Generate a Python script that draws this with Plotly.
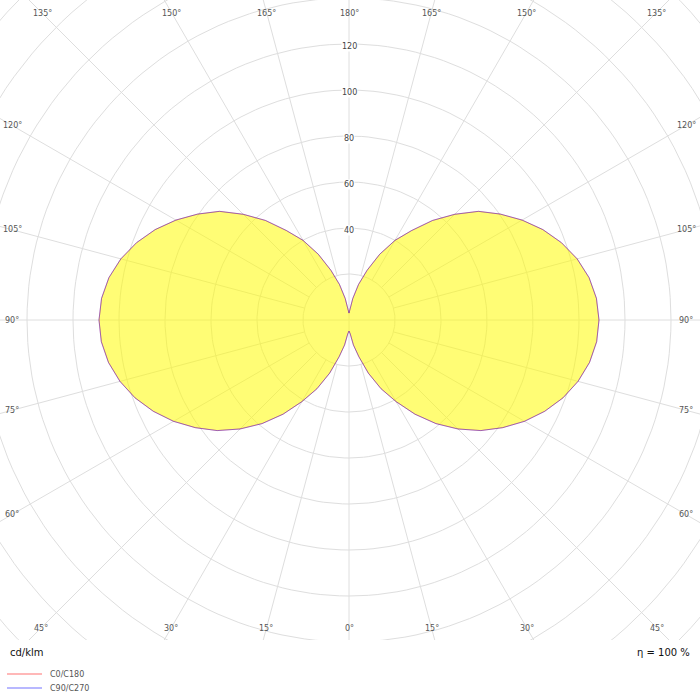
import math
import plotly.graph_objects as go

# ---- data ----
gamma_deg = list(range(0, 181, 5))
i_c0_c180 = [4.8, 6.0, 11.0, 16.5, 24.6, 33.0, 41.0, 50.0, 58.8, 67.0, 74.8, 81.6,
             88.1, 93.9, 99.0, 103.1, 106.2, 108.1, 108.7, 108.0, 106.0, 102.7,
             98.3, 93.0, 86.9, 80.3, 73.5, 65.0, 56.5, 47.5, 40.0, 31.5, 23.0,
             16.0, 9.5, 4.5, 3.0]
i_c90_c270 = list(i_c0_c180)
radial_ticks = [40, 60, 80, 100, 120]
grid_radii = [20, 40, 60, 80, 100, 120, 140, 160, 180, 200]
angle_ticks = list(range(0, 181, 15))
unit_label = "cd/klm"
eta_label = "η = 100 %"
series_names = ["C0/C180", "C90/C270"]
series_legend_colors = ["#ffb8b8", "#b8b8ff"]

# ---- layout constants ----
PX = 2.3  # pixels per cd/klm
W, H, H_PLOT = 700, 700, 640
CX, CY = 349, 320
FONT = "DejaVu Sans"
GRID = "#dedede"


def polar_xy(g, r):
    a = math.radians(g)
    return r * math.sin(a), -r * math.cos(a)


fig = go.Figure()

# grid circles
for rr in grid_radii:
    xs, ys = [], []
    for k in range(0, 361, 2):
        x, y = polar_xy(k, rr)
        xs.append(x); ys.append(y)
    fig.add_trace(go.Scatter(x=xs, y=ys, mode="lines", line=dict(color=GRID, width=1),
                             hoverinfo="skip", showlegend=False))
# rays
for k in range(0, 360, 15):
    r0 = 0 if k % 90 == 0 else 20
    x0, y0 = polar_xy(k, r0)
    x1, y1 = polar_xy(k, 260)
    fig.add_trace(go.Scatter(x=[x0, x1], y=[y0, y1], mode="lines", line=dict(color=GRID, width=1),
                             hoverinfo="skip", showlegend=False))


def closed_curve(vals):
    xs, ys = [], []
    for g, v in zip(gamma_deg, vals):
        x, y = polar_xy(g, v)
        xs.append(x); ys.append(y)
    for g, v in zip(reversed(gamma_deg), reversed(vals)):
        x, y = polar_xy(g, v)
        xs.append(-x); ys.append(y)
    return xs, ys

# fill
fx, fy = closed_curve(i_c0_c180)
fig.add_trace(go.Scatter(x=fx, y=fy, mode="lines", fill="toself",
                         fillcolor="rgba(255,252,0,0.54)", line=dict(width=0),
                         hoverinfo="skip", showlegend=False))
# outlines
ax_, ay_ = closed_curve(i_c0_c180)
fig.add_trace(go.Scatter(x=ax_, y=ay_, mode="lines", line=dict(color="rgba(255,0,0,0.38)", width=1),
                         showlegend=False, name=series_names[0]))
bx_, by_ = closed_curve(i_c90_c270)
fig.add_trace(go.Scatter(x=bx_, y=by_, mode="lines", line=dict(color="rgba(0,0,255,0.38)", width=1),
                         showlegend=False, name=series_names[1]))

ann = []
shapes = []
# radial tick labels
for v in radial_ticks:
    ann.append(dict(x=0, y=v, xref="x", yref="y", text=str(v), showarrow=False,
                    font=dict(family=FONT, size=8, color="#444"), bgcolor="white",
                    borderpad=0, xanchor="center", yanchor="middle", yshift=-2))
# angle labels at the frame edge
XL, YT, YB = 337.0, 307.0, 308.0
for g in angle_ticks:
    sides = [1] if g in (0, 180) else [1, -1]
    for s in sides:
        a = math.radians(g)
        dx, dy = math.sin(a), -math.cos(a)
        ts = []
        if abs(dx) > 1e-9:
            ts.append(XL / abs(dx))
        if dy > 1e-9:
            ts.append(YT / dy)
        if dy < -1e-9:
            ts.append(YB / -dy)
        t = min(ts)
        px, py = s * dx * t, dy * t
        ann.append(dict(x=px / PX, y=py / PX, xref="x", yref="y", text=f"{g}°", showarrow=False,
                        font=dict(family=FONT, size=8, color="#555"),
                        xanchor="center", yanchor="middle"))


def pyfrac(ypix):
    return (H_PLOT - ypix) / H_PLOT


ann.append(dict(x=8 / W, y=pyfrac(652), xref="paper", yref="paper", text=unit_label,
                showarrow=False, xanchor="left", yanchor="middle",
                font=dict(family=FONT, size=10, color="#111")))
ann.append(dict(x=692 / W, y=pyfrac(652), xref="paper", yref="paper", text=eta_label,
                showarrow=False, xanchor="right", yanchor="middle",
                font=dict(family=FONT, size=10, color="#111")))
# legend (manual)
for i, (nm, col) in enumerate(zip(series_names, series_legend_colors)):
    yy = 674 + 14 * i
    shapes.append(dict(type="line", xref="paper", yref="paper", x0=7 / W, x1=42 / W,
                       y0=pyfrac(yy), y1=pyfrac(yy), line=dict(color=col, width=2)))
    ann.append(dict(x=48 / W, y=pyfrac(yy), xref="paper", yref="paper", text=nm,
                    showarrow=False, xanchor="left", yanchor="middle",
                    font=dict(family=FONT, size=8, color="#555")))

fig.update_layout(
    width=W, height=H,
    margin=dict(l=0, r=0, t=0, b=H - H_PLOT),
    paper_bgcolor="white", plot_bgcolor="white",
    xaxis=dict(range=[-CX / PX, (W - CX) / PX], visible=False, fixedrange=True),
    yaxis=dict(range=[-(H_PLOT - CY) / PX, CY / PX], visible=False, fixedrange=True),
    annotations=ann,
    shapes=shapes,
    showlegend=False,
)

fig.write_html(
    "out.html",
    config={"displayModeBar": False, "staticPlot": True},
    post_script=(
        "document.documentElement.style.margin='0';"
        "document.body.style.margin='0';document.body.style.overflow='hidden';"
        "document.body.style.height='700px';document.documentElement.style.overflow='hidden';"
        "var d=document.getElementById('{plot_id}');d.style.position='fixed';"
        "d.style.top='0px';d.style.left='0px';"
    ),
)
